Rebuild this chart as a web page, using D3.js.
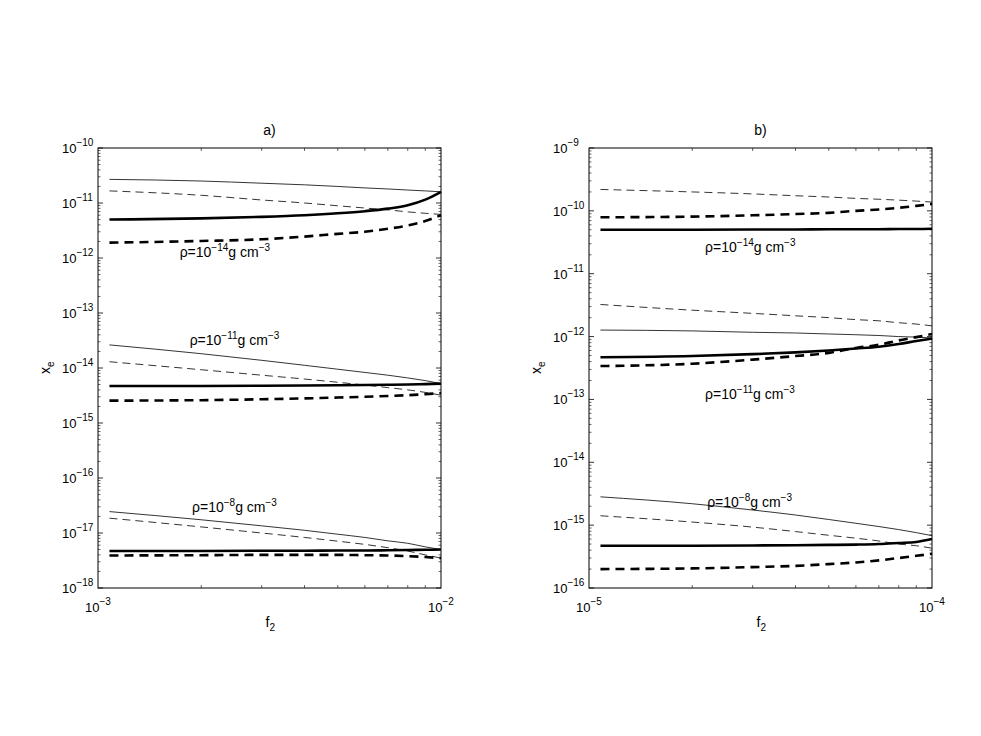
<!DOCTYPE html>
<html>
<head>
<meta charset="utf-8">
<script src="https://cdn.jsdelivr.net/npm/d3@7"></script>
<style>
  body { margin: 0; background: #fff; }
  text { font-family: "Liberation Sans", Arial, sans-serif; fill: #000; }
</style>
</head>
<body>
<div id="chart"></div>
<script>
// f2 sample points for each panel
var f2A = [1.08e-3, 2e-3, 3e-3, 4e-3, 5e-3, 6e-3, 7e-3, 8e-3, 9e-3, 1e-2];
var f2B = [1.08e-5, 2e-5, 3e-5, 4e-5, 5e-5, 6e-5, 7e-5, 8e-5, 9e-5, 1e-4];

// panel a) rho = 1e-14
var a14_thin      = [2.69e-11, 2.51e-11, 2.29e-11, 2.14e-11, 2.0e-11, 1.88e-11, 1.80e-11, 1.72e-11, 1.66e-11, 1.60e-11];
var a14_thinDash  = [1.66e-11, 1.38e-11, 1.135e-11, 1.0e-11, 8.9e-12, 8.1e-12, 7.5e-12, 6.9e-12, 6.5e-12, 6.2e-12];
var a14_thick     = [5.0e-12, 5.25e-12, 5.6e-12, 6.0e-12, 6.5e-12, 7.1e-12, 7.9e-12, 9.1e-12, 1.15e-11, 1.6e-11];
var a14_thickDash = [1.9e-12, 2.04e-12, 2.19e-12, 2.45e-12, 2.75e-12, 3.0e-12, 3.4e-12, 3.9e-12, 4.7e-12, 6.0e-12];
// panel a) rho = 1e-11
var a11_thin      = [2.63e-14, 1.82e-14, 1.38e-14, 1.12e-14, 9.5e-15, 8.3e-15, 7.4e-15, 6.6e-15, 5.9e-15, 5.2e-15];
var a11_thinDash  = [1.30e-14, 9.3e-15, 7.4e-15, 6.3e-15, 5.5e-15, 4.9e-15, 4.4e-15, 4.0e-15, 3.6e-15, 3.2e-15];
var a11_thick     = [4.7e-15, 4.7e-15, 4.75e-15, 4.8e-15, 4.85e-15, 4.9e-15, 4.95e-15, 5.0e-15, 5.1e-15, 5.2e-15];
var a11_thickDash = [2.55e-15, 2.6e-15, 2.7e-15, 2.8e-15, 2.9e-15, 3.0e-15, 3.1e-15, 3.2e-15, 3.35e-15, 3.5e-15];
// panel a) rho = 1e-8
var a8_thin      = [2.45e-17, 1.74e-17, 1.35e-17, 1.12e-17, 9.5e-18, 8.3e-18, 7.2e-18, 6.5e-18, 5.6e-18, 5.0e-18];
var a8_thinDash  = [1.86e-17, 1.29e-17, 1.0e-17, 8.3e-18, 7.1e-18, 6.2e-18, 5.4e-18, 4.7e-18, 4.0e-18, 3.5e-18];
var a8_thick     = [4.7e-18, 4.7e-18, 4.75e-18, 4.75e-18, 4.8e-18, 4.8e-18, 4.85e-18, 4.9e-18, 4.95e-18, 5.0e-18];
var a8_thickDash = [3.9e-18, 3.95e-18, 4.0e-18, 4.0e-18, 4.0e-18, 3.95e-18, 3.9e-18, 3.8e-18, 3.65e-18, 3.5e-18];

// panel b) rho = 1e-14 (no thin solid visible)
var b14_thinDash  = [2.19e-10, 2.0e-10, 1.86e-10, 1.74e-10, 1.66e-10, 1.58e-10, 1.53e-10, 1.48e-10, 1.43e-10, 1.38e-10];
var b14_thick     = [5.0e-11, 5.0e-11, 5.05e-11, 5.05e-11, 5.1e-11, 5.1e-11, 5.1e-11, 5.15e-11, 5.15e-11, 5.2e-11];
var b14_thickDash = [7.9e-11, 8.1e-11, 8.5e-11, 8.9e-11, 9.3e-11, 1.0e-10, 1.05e-10, 1.12e-10, 1.2e-10, 1.29e-10];
// panel b) rho = 1e-11
var b11_thin      = [1.27e-12, 1.23e-12, 1.17e-12, 1.14e-12, 1.10e-12, 1.07e-12, 1.04e-12, 1.0e-12, 9.8e-13, 9.5e-13];
var b11_thinDash  = [3.24e-12, 2.63e-12, 2.34e-12, 2.14e-12, 2.0e-12, 1.86e-12, 1.78e-12, 1.66e-12, 1.58e-12, 1.48e-12];
var b11_thick     = [4.7e-13, 4.9e-13, 5.25e-13, 5.6e-13, 6.0e-13, 6.45e-13, 6.9e-13, 7.6e-13, 8.5e-13, 9.3e-13];
var b11_thickDash = [3.4e-13, 3.7e-13, 4.3e-13, 4.9e-13, 5.5e-13, 6.6e-13, 7.4e-13, 8.7e-13, 9.8e-13, 1.1e-12];
// panel b) rho = 1e-8
var b8_thin      = [2.82e-15, 2.19e-15, 1.74e-15, 1.45e-15, 1.23e-15, 1.07e-15, 9.5e-16, 8.5e-16, 7.6e-16, 6.8e-16];
var b8_thinDash  = [1.41e-15, 1.12e-15, 9.3e-16, 7.9e-16, 6.9e-16, 6.2e-16, 5.6e-16, 5.0e-16, 4.7e-16, 4.3e-16];
var b8_thick     = [4.7e-16, 4.7e-16, 4.75e-16, 4.8e-16, 4.85e-16, 4.9e-16, 5.0e-16, 5.2e-16, 5.4e-16, 6.0e-16];
var b8_thickDash = [2.0e-16, 2.05e-16, 2.15e-16, 2.25e-16, 2.4e-16, 2.55e-16, 2.75e-16, 3.0e-16, 3.25e-16, 3.5e-16];

// density labels: exponent, anchor f2, anchor xe
var labelsA = [[-14, 1.73e-3, 1.05e-12], [-11, 1.85e-3, 2.6e-14], [-8, 1.88e-3, 2.45e-17]];
var labelsB = [[-14, 2.18e-5, 2.24e-11], [-11, 2.18e-5, 1.02e-13], [-8, 2.21e-5, 1.97e-15]];

var settings = {
  width: 981,
  height: 736,
  top: 148,
  bottom: 588,
  panel_w: 343,
  font_size: 13,
  label_size: 14,
  sup_size: 10,
  thin_w: 0.8,
  thick_w: 2.6
};

var styles = {
  thin:      { w: settings.thin_w,  dash: null },
  thinDash:  { w: settings.thin_w,  dash: '8,5' },
  thick:     { w: settings.thick_w, dash: null },
  thickDash: { w: settings.thick_w, dash: '9,6' }
};

var panels = [
  {
    title: 'a)', left: 98, f2: f2A,
    xdom: [1e-3, 1e-2], ydom: [1e-18, 1e-10],
    series: [
      [a14_thin, 'thin'], [a14_thinDash, 'thinDash'], [a14_thick, 'thick'], [a14_thickDash, 'thickDash'],
      [a11_thin, 'thin'], [a11_thinDash, 'thinDash'], [a11_thick, 'thick'], [a11_thickDash, 'thickDash'],
      [a8_thin, 'thin'], [a8_thinDash, 'thinDash'], [a8_thick, 'thick'], [a8_thickDash, 'thickDash']
    ],
    labels: labelsA
  },
  {
    title: 'b)', left: 589, f2: f2B,
    xdom: [1e-5, 1e-4], ydom: [1e-16, 1e-9],
    series: [
      [b14_thinDash, 'thinDash'], [b14_thick, 'thick'], [b14_thickDash, 'thickDash'],
      [b11_thin, 'thin'], [b11_thinDash, 'thinDash'], [b11_thick, 'thick'], [b11_thickDash, 'thickDash'],
      [b8_thin, 'thin'], [b8_thinDash, 'thinDash'], [b8_thick, 'thick'], [b8_thickDash, 'thickDash']
    ],
    labels: labelsB
  }
];

var svg = d3.select('#chart').append('svg')
  .attr('width', settings.width)
  .attr('height', settings.height);

// "10" with a superscript exponent
function powerLabel(sel, exp) {
  sel.append('tspan').text('10');
  sel.append('tspan')
    .attr('dy', -7)
    .style('font-size', settings.sup_size + 'px')
    .text('\u2212' + Math.abs(exp));
}

panels.forEach(function(p) {
  var x = d3.scaleLog().domain(p.xdom).range([p.left, p.left + settings.panel_w]);
  var y = d3.scaleLog().domain(p.ydom).range([settings.bottom, settings.top]);
  var g = svg.append('g');

  var lo = Math.round(Math.log10(p.ydom[0])), hi = Math.round(Math.log10(p.ydom[1]));

  // y ticks (inside, both sides)
  for (var k = lo; k <= hi; k++) {
    var yy = y(Math.pow(10, k));
    g.append('line').attr('x1', x.range()[0]).attr('x2', x.range()[0] + 5).attr('y1', yy).attr('y2', yy)
      .attr('stroke', '#000').attr('stroke-width', 0.8);
    g.append('line').attr('x1', x.range()[1]).attr('x2', x.range()[1] - 5).attr('y1', yy).attr('y2', yy)
      .attr('stroke', '#000').attr('stroke-width', 0.8);
    var t = g.append('text')
      .attr('x', x.range()[0] - 36)
      .attr('y', yy + 5)
      .style('font-size', settings.font_size + 'px');
    powerLabel(t, k);
    if (k < hi) {
      for (var m = 2; m <= 9; m++) {
        var ym = y(m * Math.pow(10, k));
        g.append('line').attr('x1', x.range()[0]).attr('x2', x.range()[0] + 2.5).attr('y1', ym).attr('y2', ym)
          .attr('stroke', '#000').attr('stroke-width', 0.6);
        g.append('line').attr('x1', x.range()[1]).attr('x2', x.range()[1] - 2.5).attr('y1', ym).attr('y2', ym)
          .attr('stroke', '#000').attr('stroke-width', 0.6);
      }
    }
  }

  // x ticks (inside, top and bottom)
  for (var m2 = 2; m2 <= 9; m2++) {
    var xm = x(m2 * p.xdom[0]);
    g.append('line').attr('x1', xm).attr('x2', xm).attr('y1', settings.bottom).attr('y2', settings.bottom - 3)
      .attr('stroke', '#000').attr('stroke-width', 0.6);
    g.append('line').attr('x1', xm).attr('x2', xm).attr('y1', settings.top).attr('y2', settings.top + 3)
      .attr('stroke', '#000').attr('stroke-width', 0.6);
  }
  p.xdom.forEach(function(v) {
    var t = g.append('text')
      .attr('x', x(v) - 13)
      .attr('y', settings.bottom + 24)
      .style('font-size', settings.font_size + 'px');
    powerLabel(t, Math.round(Math.log10(v)));
  });

  // frame
  g.append('rect')
    .attr('x', x.range()[0]).attr('y', settings.top)
    .attr('width', settings.panel_w).attr('height', settings.bottom - settings.top)
    .attr('fill', 'none').attr('stroke', '#000').attr('stroke-width', 1);

  // curves
  var line = d3.line()
    .x(function(d) { return x(d[0]); })
    .y(function(d) { return y(d[1]); })
    .curve(d3.curveMonotoneX);

  p.series.forEach(function(s) {
    var st = styles[s[1]];
    g.append('path')
      .datum(d3.zip(p.f2, s[0]))
      .attr('d', line)
      .attr('fill', 'none')
      .attr('stroke', '#000')
      .attr('stroke-width', st.w)
      .attr('stroke-dasharray', st.dash);
  });

  // density labels
  p.labels.forEach(function(l) {
    var t = g.append('text')
      .attr('x', x(l[1]))
      .attr('y', y(l[2]))
      .style('font-size', settings.label_size + 'px');
    t.append('tspan').text('\u03c1=10');
    t.append('tspan').attr('dy', -6).style('font-size', settings.sup_size + 'px').text('\u2212' + Math.abs(l[0]));
    t.append('tspan').attr('dy', 6).text('g cm');
    t.append('tspan').attr('dy', -6).style('font-size', settings.sup_size + 'px').text('\u22123');
  });

  // title
  var cx = p.left + settings.panel_w / 2;
  g.append('text')
    .attr('x', cx).attr('y', settings.top - 13)
    .attr('text-anchor', 'middle')
    .style('font-size', settings.label_size + 'px')
    .text(p.title);

  // axis labels
  var xl = g.append('text')
    .attr('x', cx - 4).attr('y', settings.bottom + 39)
    .style('font-size', settings.label_size + 'px');
  xl.append('tspan').text('f');
  xl.append('tspan').attr('dy', 4).style('font-size', settings.sup_size + 'px').text('2');

  var yl = g.append('text')
    .attr('transform', 'translate(' + (p.left - 48) + ',' + ((settings.top + settings.bottom) / 2 + 6) + ') rotate(-90)')
    .style('font-size', settings.label_size + 'px');
  yl.append('tspan').text('x');
  yl.append('tspan').attr('dy', 4).style('font-size', settings.sup_size + 'px').text('e');
});
</script>
</body>
</html>
